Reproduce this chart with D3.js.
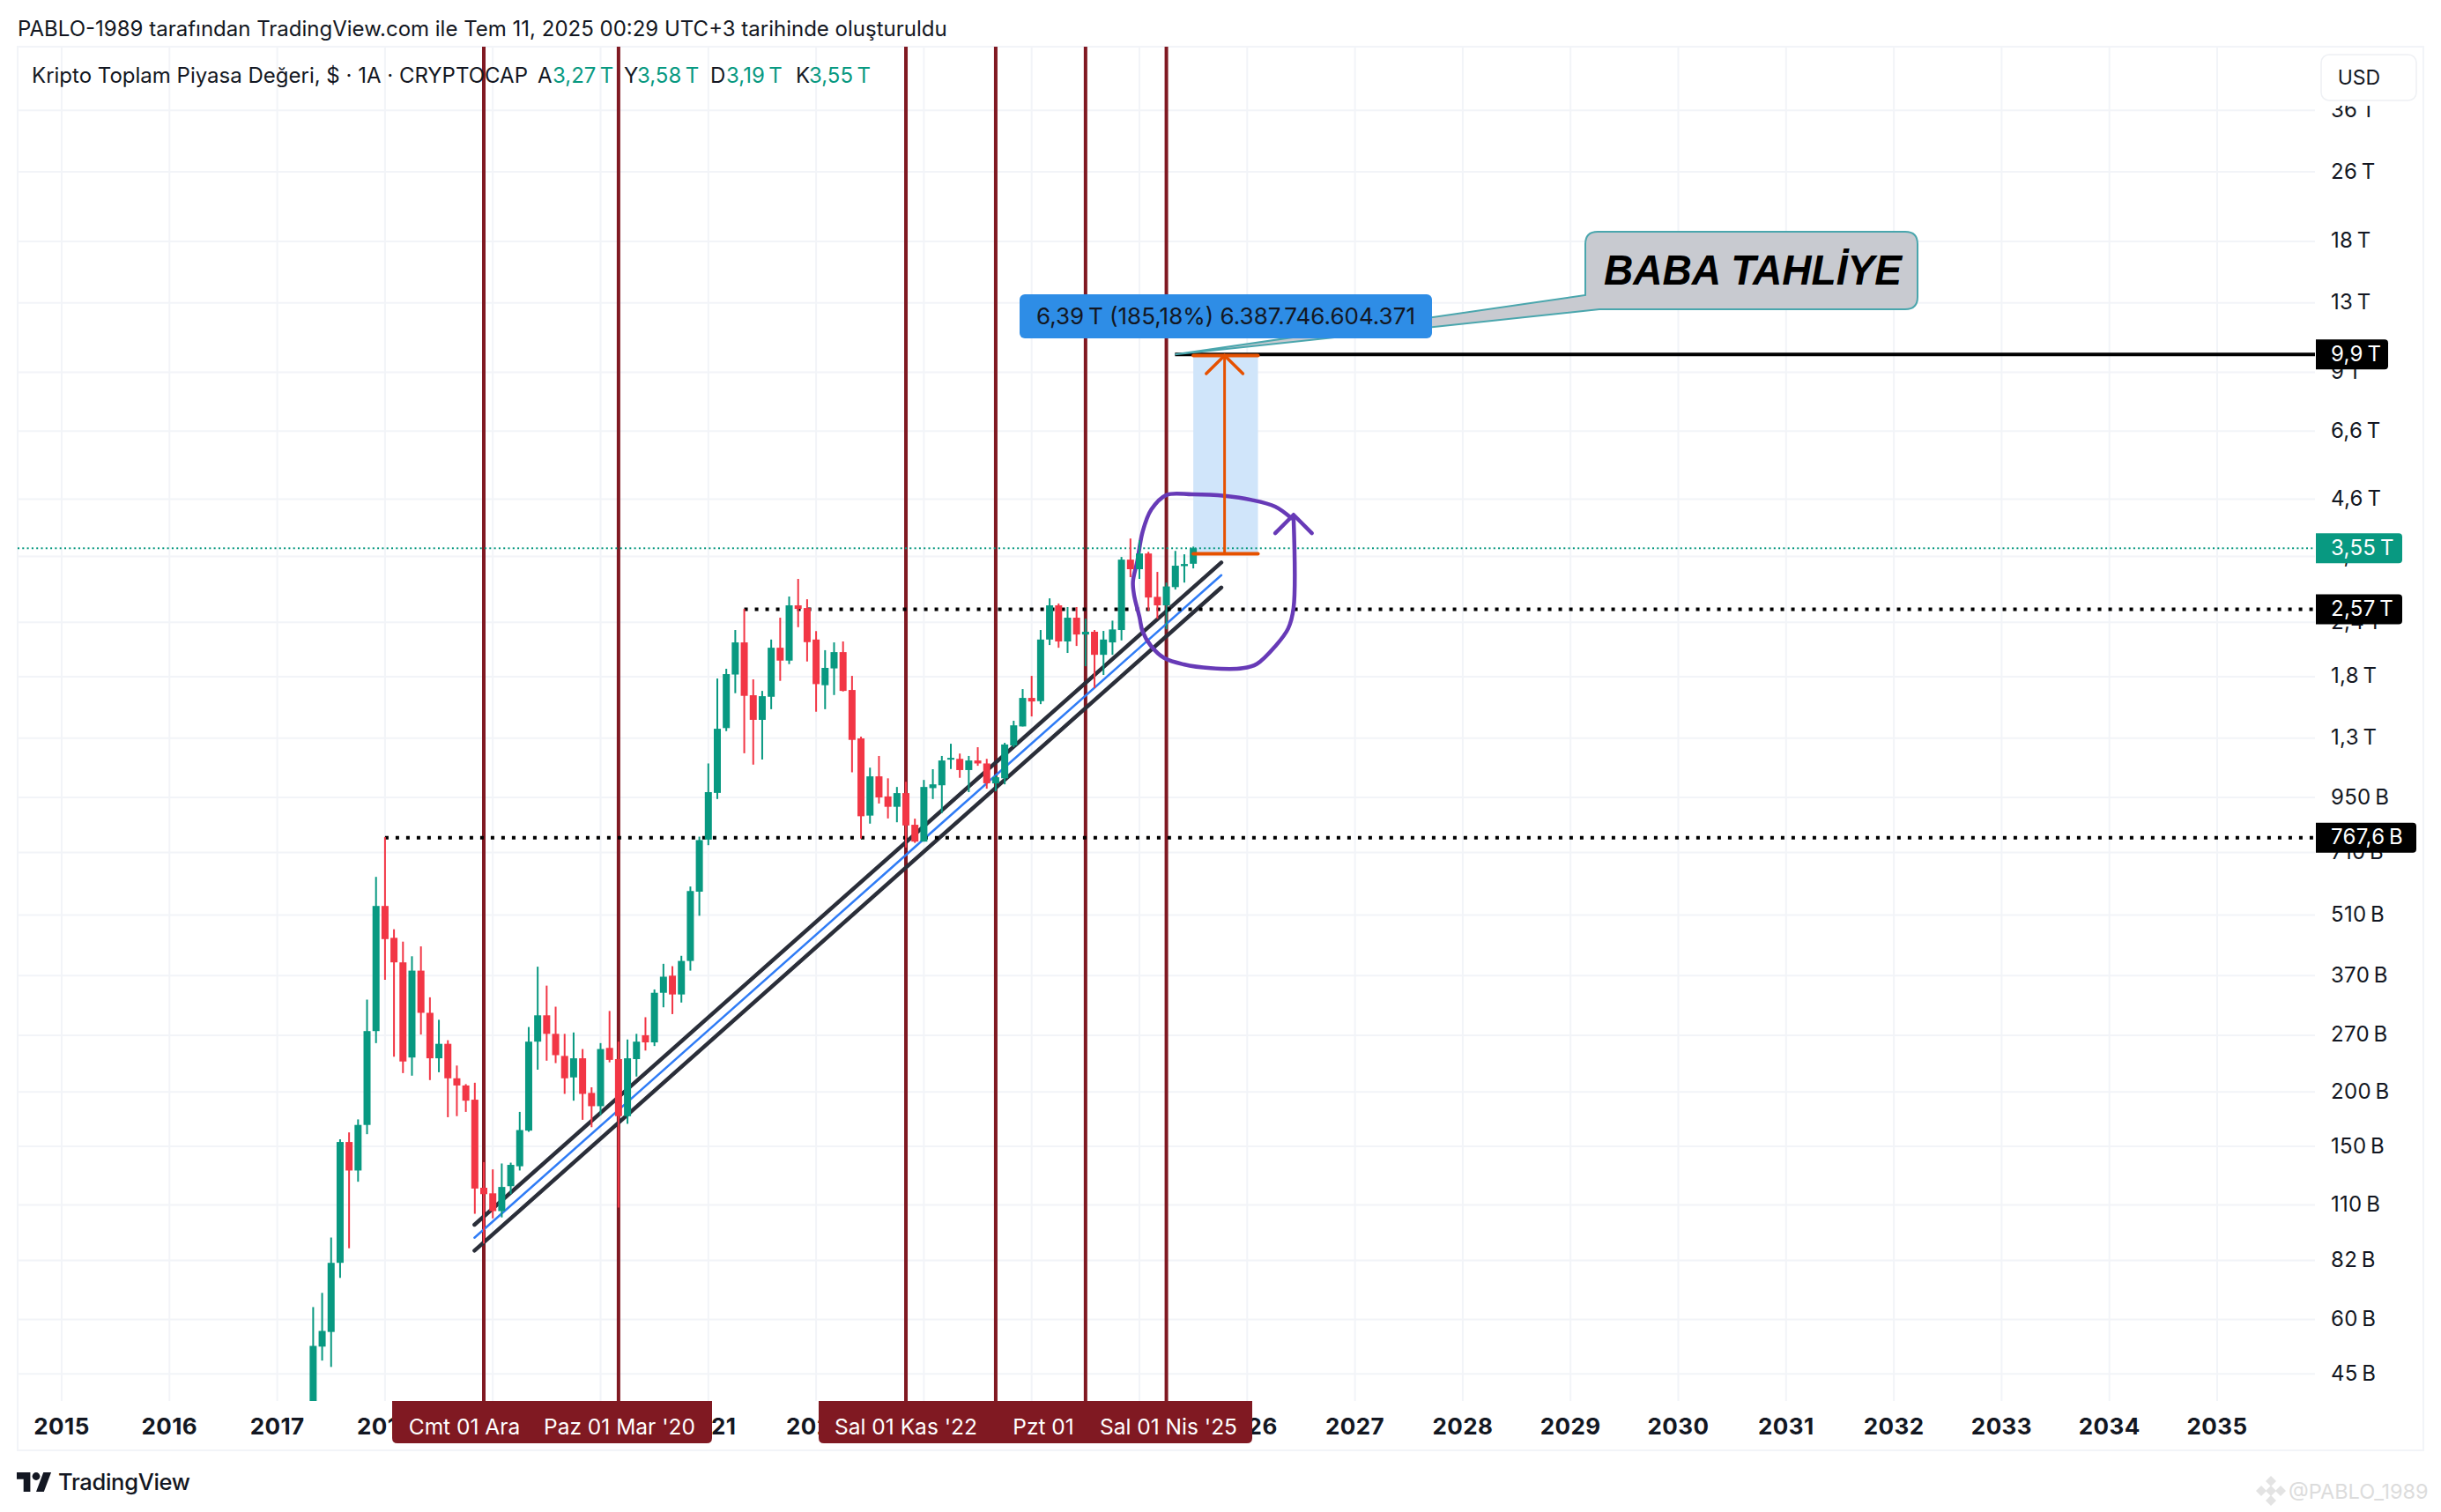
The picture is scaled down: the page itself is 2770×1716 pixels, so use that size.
<!DOCTYPE html>
<html><head><meta charset="utf-8">
<script src="https://cdnjs.cloudflare.com/ajax/libs/d3/7.8.5/d3.min.js"></script>
<style>html,body{margin:0;padding:0;background:#fff}svg{display:block}text{font-family:Inter,"Noto Sans",sans-serif}</style>
</head><body><svg id="c" width="2770" height="1716"></svg>
<script>
// Monthly candles, May 2017 .. Jul 2025, in billions of USD
const firstBarYear = 2017 + 4/12;
const barOpen = [38,52,56.2,81,153.5,132,168,276,535,452,397,240,380,304,239,258,215,207,192,120.5,117,106.5,121.5,135,163,261,300,272,242,216,239,199,185.5,252.5,238,176,238,270,260,338,370,335,400,577,
 760,973,1371,1820,2157,1631,1432,1618,2097,1959,2624,2587,2190,1720,1880,2049,1677,1298,863,1062,955,904,972,822,752,998,1013,1161,1165,1098,1155,1137,1023,1051,1251,1383,1608,1581,2190,2624,2168,2458,2249,2282,2020,2157,2303,3342,3177,3452,2745,2624,2890,3230,3270];
const barHigh = [64.1,69.1,92.6,155.7,161.5,173,326,624,770,473,443,410,432,330,293,263,230,208.5,210,138,132.8,137,137.6,180,282,388,351,314,272,274,251,205,259,307,261,264,272,297,344,394,389,411,593,772,
 1137,1782,1876,2303,2575,1774,1669,2190,2458,2750,3018,2710,2290,2070,2157,2168,1807,1310,1112,1183,1051,1004,1032,849,1042,1103,1183,1262,1198,1183,1239,1165,1067,1268,1425,1685,1807,2303,2723,2650,2600,2600,2446,2303,2292,2420,3390,3737,3700,3484,3132,2960,3500,3437,3580];
const barLow = [36,48.3,46.7,74.8,87.5,124.4,160,259,362,241,221,218,271,213,222,175,176,180,105,89.7,102.5,103,116.5,132,162,225,236,233,198,191,172.6,166,177,234,108.5,169,217,249,255,313,302,321,380,508,
 738,942,1349,1649,1200,1130,1161,1515,1760,1923,2338,1950,1495,1515,1633,1664,1085,764,827,920,850,833,729,747,752,942,875,1104,1054,977,1123,995,981,1018,1239,1383,1458,1556,2127,2097,2040,2117,1902,1693,1816,2020,2180,3046,3017,2550,2445,2312,2853,2960,3190];
const barClose = [52.2,56.5,81,153.5,132,168,276,535,449,397,235,380,304,239,258,215,207,191,120,116.5,106.5,121,136,163.5,261,300,272,243,215,239,198,185.5,251,237,176,239,261,260,338,368,335,400,579,758,
 977,1366,1824,2157,1626,1432,1623,2097,1959,2624,2575,2160,1730,1885,2049,1669,1288,860,1062,950,904,972,819,752,1004,1018,1155,1171,1098,1155,1137,1024,1057,1257,1391,1608,1578,2190,2624,2168,2458,2249,2282,2020,2190,2310,3342,3177,3452,2735,2624,2900,3236,3265,3550];

// Axes
const yearTicks = d3.range(2015, 2036);
const priceTickValues = [36000,26000,18000,13000,9000,6600,4600,3400,2400,1800,1300,950,710,510,370,270,200,150,110,82,60,45];
const priceTickLabels = ["36\u2009T","26\u2009T","18\u2009T","13\u2009T","9\u2009T","6,6\u2009T","4,6\u2009T","3,4\u2009T","2,4\u2009T","1,8\u2009T","1,3\u2009T","950\u2009B","710\u2009B","510\u2009B","370\u2009B","270\u2009B","200\u2009B","150\u2009B","110\u2009B","82\u2009B","60\u2009B","45\u2009B"];

// Vertical marker dates (year fraction)
const markerDates = [2018+11/12, 2020+2/12, 2022+10/12, 2023+8/12, 2024+6/12, 2025+3/12];
const timeTags = ["Cmt 01 Ara","Paz 01 Mar '20","Sal 01 Kas '22","Pzt 01","Sal 01 Nis '25"];
const timeTagCentres = [527,703,1028,1184,1326];

// Drawings, as [year fraction, price in billions]
const channelUpper = [[2018.83,99.1],[2025.76,3292]];
const channelMiddle = [[2018.83,92.5],[2025.76,3078]];
const channelLower = [[2018.83,86.4],[2025.76,2884]];
const circleStroke = [[2026.41,4162],[2026.26,4423],[2026.04,4584],[2025.79,4682],[2025.49,4719],[2025.25,4704],[2025.11,4355],[2025.03,3876],[2024.98,3316],[2024.94,2975],[2024.95,2775],[2025.0,2469],[2025.03,2284],[2025.11,2113],[2025.23,1986],[2025.41,1920],[2025.66,1882],[2025.96,1882],[2026.09,1925],[2026.26,2113],[2026.38,2321],[2026.43,2587],[2026.43,4186]];
const circleArrow = [[2026.26,3845],[2026.43,4237],[2026.60,3845]];
const measureFrom = 3449, measureTo = 9837, measureStart = 2025.5, measureEnd = 2026.1, measureMid = 2025.79;
const measureHead = [[2025.62,8939],[2025.79,9837],[2025.96,8939]];
const resistanceHigh = 9900, resistanceHighStart = 2025.33;
const dottedLevels = [{price:767.6,start:2018},{price:2570,start:2021+4/12}];
const lastPrice = 3550;
const priceTags = [{price:9900,text:"9,9\u2009T",w:82,fill:"#000"},{price:3550,text:"3,55\u2009T",w:98,fill:"#089981"},{price:2570,text:"2,57\u2009T",w:98,fill:"#000"},{price:767.6,text:"767,6\u2009B",w:114,fill:"#000"}];
const legendBits = [["A",610,"#131722"],["3,27\u2009T",627,"#089981"],["Y",708,"#131722"],["3,58\u2009T",723,"#089981"],["D",806,"#131722"],["3,19\u2009T",824,"#089981"],["K",903,"#131722"],["3,55\u2009T",918,"#089981"]];

const UP="#089981", DOWN="#F23645", MAROON="#801922", GRID="#f2f4f8", INK="#131722", ORANGE="#e65100", PURPLE="#673ab7";
const L=20,R=2750,T=53,B=1646,plotR=2627,plotB=1590;

const x = d3.scaleLinear().domain([2015,2035]).range([70,2516]);
const y = d3.scaleLog().domain([26000,200]).range([195,1239.3]);

const svg = d3.select("#c");
svg.append("rect").attr("width",2770).attr("height",1716).attr("fill","#fff");

svg.append("text").attr("x",20).attr("y",41).attr("font-size",24).attr("fill",INK)
 .text("PABLO-1989 tarafından TradingView.com ile Tem 11, 2025 00:29 UTC+3 tarihinde oluşturuldu");

svg.append("rect").attr("x",L).attr("y",T).attr("width",R-L).attr("height",B-T).attr("fill","none").attr("stroke",GRID).attr("stroke-width",2);

const defs = svg.append("defs");
defs.append("clipPath").attr("id","plot").append("rect").attr("x",L).attr("y",T).attr("width",plotR-L).attr("height",plotB-T);

// grid
const grid = svg.append("g");
grid.selectAll("line.v").data(yearTicks).join("line").attr("x1",d=>x(d)).attr("x2",d=>x(d)).attr("y1",T).attr("y2",plotB).attr("stroke",GRID).attr("stroke-width",2);
grid.selectAll("line.h").data(priceTickValues).join("line").attr("class","h").attr("x1",L).attr("x2",plotR).attr("y1",d=>y(d)).attr("y2",d=>y(d)).attr("stroke",GRID).attr("stroke-width",2);

// axes labels
const yearG = svg.append("g");
yearG.selectAll("text").data(yearTicks).join("text").attr("x",d=>x(d)).attr("y",1628).attr("text-anchor","middle").attr("font-size",26).attr("font-weight",700).attr("letter-spacing",0.4).attr("fill",INK).text(d=>d);
const tickG = svg.append("g");
tickG.selectAll("text").data(priceTickValues).join("text").attr("x",2645).attr("y",d=>y(d)+7.5).attr("font-size",24).attr("letter-spacing",0.3).attr("fill",INK).text((d,i)=>priceTickLabels[i]);

const plot = svg.append("g").attr("clip-path","url(#plot)");
const pt = d3.line().x(d=>x(d[0])).y(d=>y(d[1]));

// measure fill
plot.append("rect").attr("x",x(measureStart)).attr("width",x(measureEnd)-x(measureStart)).attr("y",y(measureTo)).attr("height",y(measureFrom)-y(measureTo)).attr("fill","#d0e5fa");

// markers
plot.selectAll("line.m").data(markerDates).join("line").attr("class","m").attr("x1",d=>x(d)).attr("x2",d=>x(d)).attr("y1",T).attr("y2",plotB).attr("stroke",MAROON).attr("stroke-width",4);

// channel
[[channelUpper,"#2a2e39",4.5],[channelMiddle,"#2f7cf6",2.5],[channelLower,"#2a2e39",4.5]].forEach(([d,c,w])=>{
 plot.append("path").attr("d",pt(d)).attr("fill","none").attr("stroke",c).attr("stroke-width",w).attr("stroke-linecap","round");
});

// dotted levels
plot.selectAll("line.d").data(dottedLevels).join("line").attr("class","d").attr("x1",d=>x(d.start)).attr("x2",plotR).attr("y1",d=>y(d.price)).attr("y2",d=>y(d.price)).attr("stroke","#000").attr("stroke-width",4).attr("stroke-dasharray","4 8");
plot.append("line").attr("x1",L).attr("x2",plotR).attr("y1",y(lastPrice)).attr("y2",y(lastPrice)).attr("stroke",UP).attr("stroke-width",2).attr("stroke-dasharray","2 3.3");

// resistance
plot.append("line").attr("x1",x(resistanceHighStart)).attr("x2",plotR).attr("y1",y(resistanceHigh)).attr("y2",y(resistanceHigh)).attr("stroke","#000").attr("stroke-width",4);

// purple
plot.append("path").attr("d",d3.line().x(d=>x(d[0])).y(d=>y(d[1])).curve(d3.curveCatmullRom.alpha(0.5))(circleStroke)).attr("fill","none").attr("stroke",PURPLE).attr("stroke-width",4.5).attr("stroke-linecap","round").attr("stroke-linejoin","round");
plot.append("path").attr("d",pt(circleArrow)).attr("fill","none").attr("stroke",PURPLE).attr("stroke-width",4.5).attr("stroke-linecap","round").attr("stroke-linejoin","round");

// candles
const barX = i => x(firstBarYear + i/12);
const candles = plot.append("g");
const idx = d3.range(barClose.length);
const col = i => barClose[i]>=barOpen[i]?UP:DOWN;
candles.selectAll("line").data(idx).join("line").attr("x1",barX).attr("x2",barX).attr("y1",i=>y(barHigh[i])).attr("y2",i=>y(barLow[i])).attr("stroke",col).attr("stroke-width",2);
candles.selectAll("rect").data(idx).join("rect").attr("x",i=>barX(i)-4).attr("width",8).attr("y",i=>y(Math.max(barOpen[i],barClose[i]))).attr("height",i=>Math.max(2,Math.abs(y(barOpen[i])-y(barClose[i])))).attr("fill",col);

// measure strokes
[measureFrom,measureTo].forEach(p=>{
 plot.append("line").attr("x1",x(measureStart)).attr("x2",x(measureEnd)).attr("y1",y(p)).attr("y2",y(p)).attr("stroke",ORANGE).attr("stroke-width",4).attr("stroke-linecap","round");
});
plot.append("line").attr("x1",x(measureMid)).attr("x2",x(measureMid)).attr("y1",y(measureFrom)).attr("y2",y(measureTo)).attr("stroke",ORANGE).attr("stroke-width",3);
plot.append("path").attr("d",pt(measureHead)).attr("fill","none").attr("stroke",ORANGE).attr("stroke-width",3.5).attr("stroke-linecap","round");

// callout
const tipX = x(resistanceHighStart), tipY = y(resistanceHigh);
const bx0=1799,bx1=2176,by0=263,by1=351,r=14;
svg.append("path").attr("d",`M${bx0+r},${by0} H${bx1-r} Q${bx1},${by0} ${bx1},${by0+r} V${by1-r} Q${bx1},${by1} ${bx1-r},${by1} H1815 L${tipX},${tipY} L${bx0},335 V${by0+r} Q${bx0},${by0} ${bx0+r},${by0} Z`)
 .attr("fill","#c8cad0").attr("stroke","#4aa6ad").attr("stroke-width",2);
svg.append("text").attr("x",1820).attr("y",323).attr("font-size",48).attr("font-weight",700).attr("font-style","italic").attr("textLength",338).attr("lengthAdjust","spacingAndGlyphs").style("font-family","'Liberation Sans',sans-serif").attr("fill","#000").text("BABA TAHLİYE");

// measure label
svg.append("rect").attr("x",1157).attr("y",334).attr("width",468).attr("height",50).attr("rx",6).attr("fill","#2e8de6");
svg.append("text").attr("x",1391).attr("y",368).attr("text-anchor","middle").attr("font-size",26).attr("fill",INK).text("6,39\u2009T (185,18%) 6.387.746.604.371");

// legend
svg.append("text").attr("x",36).attr("y",94).attr("font-size",24).attr("fill",INK).text("Kripto Toplam Piyasa Değeri, $ · 1A · CRYPTOCAP");
svg.selectAll("text.lg").data(legendBits).join("text").attr("class","lg").attr("x",d=>d[1]).attr("y",94).attr("font-size",24).attr("fill",d=>d[2]).text(d=>d[0]);

// time tags
[[445,808],[929,1421]].forEach(([a,b])=>{
 svg.append("path").attr("d",`M${a},${plotB} H${b} V1632 Q${b},1638 ${b-6},1638 H${a+6} Q${a},1638 ${a},1632 Z`).attr("fill",MAROON);
});
svg.selectAll("text.tt").data(timeTags).join("text").attr("class","tt").attr("x",(d,i)=>timeTagCentres[i]).attr("y",1628).attr("text-anchor","middle").attr("font-size",24.5).attr("fill","#fff").text(d=>d);

// price tags
priceTags.forEach(t=>{
 const c=y(t.price),a=2628,b=a+t.w,h=17;
 svg.append("path").attr("d",`M${a},${c-h} H${b-4} Q${b},${c-h} ${b},${c-h+4} V${c+h-4} Q${b},${c+h} ${b-4},${c+h} H${a} Z`).attr("fill",t.fill);
 svg.append("text").attr("x",2645).attr("y",c+7.5).attr("font-size",24).attr("letter-spacing",0.3).attr("fill","#fff").text(t.text);
});

// currency button, masking the top of the axis
svg.append("rect").attr("x",2628).attr("y",54).attr("width",121).attr("height",66).attr("fill","#fff");
svg.append("rect").attr("x",2634).attr("y",62).attr("width",108).attr("height",52).attr("rx",9).attr("fill","#fff").attr("stroke","#eef0f4").attr("stroke-width",1.5);
svg.append("text").attr("x",2677).attr("y",96).attr("text-anchor","middle").attr("font-size",23).attr("fill",INK).text("USD");

// logo
const logo = svg.append("g").attr("transform","translate(19,1664.5) scale(1.1)").attr("fill",INK);
logo.append("path").attr("d","M14 6H0v7h7v13h7V6z");
logo.append("circle").attr("cx",20).attr("cy",10).attr("r",4);
logo.append("path").attr("d","M28 26h-8l7.5-20h8L28 26z");
svg.append("text").attr("x",66).attr("y",1691).attr("font-size",25.5).attr("font-weight",500).attr("fill",INK).attr("letter-spacing","-0.3").text("TradingView");

// watermark
const wm = svg.append("g").attr("transform","translate(2577,1692)").attr("fill","#e3e3e3");
[[0,-11],[-11,0],[11,0],[0,0],[0,11]].forEach(([dx,dy])=>{
 wm.append("path").attr("d",`M${dx},${dy-6} L${dx+6},${dy} L${dx},${dy+6} L${dx-6},${dy} Z`);
});
svg.append("text").attr("x",2597).attr("y",1701).attr("font-size",23.5).attr("fill","#dcdcdc").text("@PABLO_1989");
</script></body></html>
